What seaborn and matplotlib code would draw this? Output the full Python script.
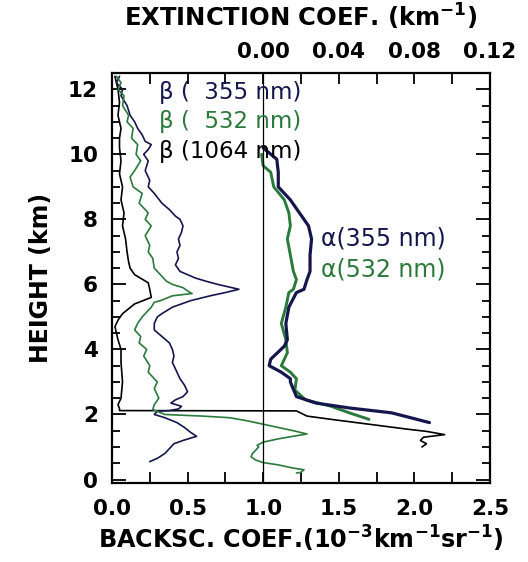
import numpy as np
import pandas as pd
import matplotlib
matplotlib.use("Agg")
import matplotlib.pyplot as plt
import seaborn as sns
from matplotlib.ticker import FixedLocator, MultipleLocator

# ---------------- data ----------------
# Backscatter coefficient 355 nm (10^-3 km^-1 sr^-1) vs height (km)
b355_h = [12.4, 12.2, 12.0, 11.8, 11.5, 11.2, 11.0, 10.8, 10.6, 10.4, 10.3, 10.15, 10.0, 9.8, 9.5,
          9.2, 9.0, 8.8, 8.5, 8.3, 8.1, 8.0, 7.8, 7.6, 7.4, 7.2, 7.0, 6.8, 6.6, 6.4, 6.2, 6.1,
          6.0, 5.85, 5.75, 5.65, 5.5, 5.3, 5.1, 5.0, 4.8, 4.6, 4.4, 4.2, 4.0, 3.8, 3.6, 3.3,
          3.1, 2.9, 2.7, 2.55, 2.45, 2.35, 2.25, 2.17, 2.12, 2.1, 2.0, 1.9, 1.75, 1.6, 1.45,
          1.33, 1.2, 1.1, 0.95, 0.8, 0.65, 0.55]
b355_v = [0.05, 0.03, 0.07, 0.06, 0.10, 0.12, 0.15, 0.17, 0.20, 0.22, 0.26, 0.24, 0.21, 0.24, 0.22,
          0.25, 0.24, 0.28, 0.33, 0.38, 0.42, 0.45, 0.47, 0.46, 0.44, 0.45, 0.43, 0.44, 0.42, 0.45, 0.55, 0.62,
          0.70, 0.84, 0.75, 0.65, 0.52, 0.40, 0.33, 0.30, 0.28, 0.28, 0.33, 0.38, 0.40, 0.41, 0.40, 0.43,
          0.45, 0.48, 0.50, 0.47, 0.42, 0.39, 0.46, 0.44, 0.38, 0.30, 0.28, 0.35, 0.43, 0.48, 0.52,
          0.56, 0.47, 0.41, 0.38, 0.35, 0.30, 0.25]

# Backscatter coefficient 532 nm
b532_h = [12.4, 12.2, 12.0, 11.8, 11.5, 11.2, 11.0, 10.8, 10.5, 10.3, 10.0, 9.8, 9.5, 9.3, 9.0,
          8.8, 8.5, 8.2, 8.0, 7.8, 7.5, 7.2, 7.0, 6.8, 6.5, 6.3, 6.1, 6.0, 5.9, 5.8, 5.72, 5.65,
          5.5, 5.45, 5.3, 5.0, 4.8, 4.6, 4.4, 4.2, 4.0, 3.8, 3.5, 3.3, 3.0, 2.8, 2.5, 2.3, 2.15,
          2.0, 1.95, 1.9, 1.8, 1.7, 1.6, 1.5, 1.4, 1.33, 1.25, 1.15, 1.05, 1.0, 0.9, 0.8, 0.7,
          0.6, 0.52, 0.45, 0.35, 0.3, 0.22, 0.2]
b532_v = [0.03, 0.06, 0.04, 0.08, 0.07, 0.11, 0.10, 0.14, 0.13, 0.17, 0.16, 0.19, 0.15, 0.12, 0.14,
          0.20, 0.18, 0.24, 0.22, 0.26, 0.22, 0.25, 0.24, 0.27, 0.28, 0.32, 0.36, 0.40, 0.47, 0.50, 0.53, 0.40,
          0.32, 0.28, 0.26, 0.20, 0.17, 0.15, 0.19, 0.18, 0.23, 0.21, 0.25, 0.24, 0.30, 0.28, 0.31, 0.28, 0.27,
          0.35, 0.60, 0.78, 0.90, 1.00, 1.10, 1.20, 1.29, 1.20, 1.10, 1.00, 0.96, 0.97, 0.95, 0.93, 0.92,
          0.95, 1.00, 1.10, 1.20, 1.27, 1.25, 1.22]

# Backscatter coefficient 1064 nm
b1064_h = [12.4, 12.0, 11.6, 11.2, 10.8, 10.5, 10.2, 9.8, 9.4, 9.0, 8.6, 8.2, 7.8, 7.4, 7.0, 6.7,
           6.5, 6.3, 6.05, 5.85, 5.6, 5.4, 5.1, 4.9, 4.7, 4.3, 4.0, 3.6, 3.0, 2.5, 2.3, 2.18, 2.12,
           2.11, 1.95, 1.85, 1.7, 1.55, 1.48, 1.38, 1.3, 1.2, 1.1, 1.0]
b1064_v = [0.02, 0.04, 0.05, 0.04, 0.06, 0.05, 0.05, 0.06, 0.05, 0.07, 0.06, 0.08, 0.07, 0.09, 0.10, 0.11,
           0.12, 0.15, 0.24, 0.25, 0.26, 0.15, 0.07, 0.04, 0.02, 0.04, 0.06, 0.06, 0.07, 0.06, 0.04, 0.05, 0.05,
           1.22, 1.29, 1.45, 1.70, 1.95, 2.08, 2.20, 2.06, 2.04, 2.08, 2.05]

# Extinction coefficient (km^-1) vs height (km)
a355_h = [10.2, 9.85, 9.45, 9.0, 8.6, 8.2, 7.8, 7.4, 6.9, 6.4, 6.15, 5.85, 5.75, 5.3, 4.8, 4.3,
          4.1, 3.7, 3.5, 3.3, 3.1, 3.0, 2.55, 2.35, 2.2, 2.05, 1.75]
a355_v = [0.000, 0.0072, 0.0080, 0.0080, 0.0144, 0.0192, 0.0240, 0.0256, 0.0248, 0.0248, 0.0232, 0.0216,
          0.0176, 0.0136, 0.0120, 0.0128, 0.0112, 0.0040, 0.0032, 0.0096, 0.0144, 0.0144, 0.0176, 0.0280,
          0.0456, 0.0680, 0.0880]

a532_h = [10.0, 9.65, 9.45, 9.0, 8.6, 8.2, 7.8, 7.4, 6.9, 6.4, 6.15, 5.85, 5.75, 5.3, 4.8, 4.3,
          3.9, 3.5, 3.3, 3.1, 2.75, 2.45, 2.25, 2.05, 1.85]
a532_v = [-0.0008, 0.0000, 0.0040, 0.0056, 0.0112, 0.0136, 0.0144, 0.0128, 0.0144, 0.0160, 0.0176, 0.0160,
          0.0136, 0.0120, 0.0096, 0.0120, 0.0128, 0.0096, 0.0144, 0.0176, 0.0168, 0.0224, 0.0360, 0.0456,
          0.0560]

x_ticks = [0.0, 0.5, 1.0, 1.5, 2.0, 2.5]
ext_ticks = [0.0, 0.04, 0.08, 0.12]
ext_tick_labels = ["0.00", "0.04", "0.08", "0.12"]

# extinction axis: 0.00 at backscatter 1.0, 0.08 km^-1 per backscatter unit
EXT_OFFSET = 1.0
EXT_SCALE = 0.08

def ext_to_bsc(a):
    return EXT_OFFSET + np.asarray(a) / EXT_SCALE

def bsc_to_ext(x):
    return (np.asarray(x) - EXT_OFFSET) * EXT_SCALE

NAVY = "#16164f"
GREEN = "#2b7a3b"
BLACK = "#000000"

# ---------------- figure ----------------
sns.set_theme(style="ticks")
plt.rcParams["font.family"] = ["DejaVu Sans"]
plt.rcParams["mathtext.default"] = "regular"
for key in ["text.color", "axes.labelcolor", "xtick.color", "ytick.color", "axes.edgecolor"]:
    plt.rcParams[key] = "black"

fig = plt.figure(figsize=(5.28, 5.62), dpi=100)
ax = fig.add_axes([0.212, 0.141, 0.716, 0.729])

def draw(h, v, color, lw):
    df = pd.DataFrame({"x": v, "h": h})
    sns.lineplot(data=df, x="x", y="h", sort=False, estimator=None, orient="y",
                 color=color, lw=lw, ax=ax)

draw(b1064_h, b1064_v, BLACK, 1.2)
draw(b355_h, b355_v, NAVY, 1.2)
draw(b532_h, b532_v, GREEN, 1.2)
draw(a532_h, ext_to_bsc(a532_v), GREEN, 2.1)
draw(a355_h, ext_to_bsc(a355_v), NAVY, 2.3)

ax.axvline(1.0, color="black", lw=0.9)

ax.set_xlim(0, 2.5)
ax.set_ylim(-0.1, 12.5)
ax.xaxis.set_major_locator(FixedLocator(x_ticks))
ax.xaxis.set_minor_locator(MultipleLocator(0.25))
ax.yaxis.set_major_locator(MultipleLocator(2))
ax.yaxis.set_minor_locator(MultipleLocator(0.5))
ax.tick_params(axis="both", which="both", direction="in", top=False, right=True,
               width=1.3, labelsize=15.5)
ax.tick_params(axis="x", which="both", length=8, pad=12)
ax.tick_params(axis="y", which="major", length=10, pad=10)
ax.tick_params(axis="y", which="minor", length=6)
for lab in ax.get_xticklabels() + ax.get_yticklabels():
    lab.set_fontweight("bold")
for sp in ax.spines.values():
    sp.set_linewidth(1.6)

ax.set_xlabel("BACKSC. COEF.(10$^{-3}$km$^{-1}$sr$^{-1}$)",
              fontsize=17.2, fontweight="bold", labelpad=3)
ax.set_ylabel("HEIGHT (km)", fontsize=17, fontweight="bold", labelpad=11)

sec = ax.secondary_xaxis("top", functions=(bsc_to_ext, ext_to_bsc))
sec.xaxis.set_major_locator(FixedLocator(ext_ticks))
sec.xaxis.set_minor_locator(FixedLocator([-0.06, -0.04, -0.02, 0.02, 0.06, 0.10]))
sec.set_xticklabels(ext_tick_labels)
sec.tick_params(axis="x", which="both", direction="in", length=8, width=1.3,
                labelsize=15.5, pad=8)
for lab in sec.get_xticklabels():
    lab.set_fontweight("bold")
sec.set_xlabel("EXTINCTION COEF. (km$^{-1}$)", fontsize=17.5, fontweight="bold", labelpad=11)

# in-plot labels
ax.text(0.31, 11.9, "β (  355 nm)", color=NAVY, fontsize=16.5, va="center")
ax.text(0.31, 11.0, "β (  532 nm)", color=GREEN, fontsize=16.5, va="center")
ax.text(0.31, 10.1, "β (1064 nm)", color=BLACK, fontsize=16.5, va="center")
ax.text(1.38, 7.4, "α(355 nm)", color=NAVY, fontsize=17, va="center")
ax.text(1.38, 6.45, "α(532 nm)", color=GREEN, fontsize=17, va="center")

fig.savefig("out.png", dpi=100)
